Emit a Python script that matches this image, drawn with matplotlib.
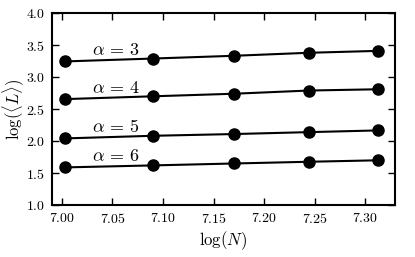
import numpy as np
import matplotlib
matplotlib.use("Agg")
import matplotlib.pyplot as plt
from matplotlib.ticker import FormatStrFormatter

plt.rcParams['mathtext.fontset'] = 'cm'
plt.rcParams['font.family'] = 'serif'
plt.rcParams['font.serif'] = ['cmr10', 'DejaVu Serif']
plt.rcParams['axes.formatter.use_mathtext'] = True

N = [1100, 1200, 1300, 1400, 1500]
logN = np.log(N)
alphas = [3, 4, 5, 6]
logL = {
    3: [3.245, 3.29, 3.333, 3.38, 3.41],
    4: [2.656, 2.70, 2.74, 2.79, 2.81],
    5: [2.042, 2.083, 2.11, 2.14, 2.167],
    6: [1.589, 1.62, 1.65, 1.677, 1.70],
}
xticks = [7.00, 7.05, 7.10, 7.15, 7.20, 7.25, 7.30]
yticks = [1.0, 1.5, 2.0, 2.5, 3.0, 3.5, 4.0]

fig = plt.figure(figsize=(4.15, 2.57), dpi=100)
ax = fig.add_axes([0.125, 0.202, 0.827, 0.747])

for a in alphas:
    ax.plot(logN, logL[a], color='black', lw=1.5, marker='o', ms=8, zorder=3)
    ax.text(7.030, logL[a][0] + 0.1, r'$\alpha\,=\,%d$' % a, fontsize=13,
            ha='left', va='baseline')

ax.set_xlim(6.990, 7.3297)
ax.set_ylim(1.0, 4.0)
ax.set_xticks(xticks)
ax.set_yticks(yticks)
ax.xaxis.set_major_formatter(FormatStrFormatter('$%.2f$'))
ax.yaxis.set_major_formatter(FormatStrFormatter('$%.1f$'))
ax.tick_params(direction='in', top=True, right=True, length=5, width=1,
               labelsize=10, pad=5)
for s in ax.spines.values():
    s.set_linewidth(1.5)
ax.set_xlabel(r'$\log(N)$', fontsize=12)
ax.set_ylabel(r'$\log(\langle L\rangle)$', fontsize=12)
ax.xaxis.set_label_coords(0.5, -0.125)
ax.yaxis.set_label_coords(-0.076, 0.5)

fig.savefig('out.png', dpi=100)
